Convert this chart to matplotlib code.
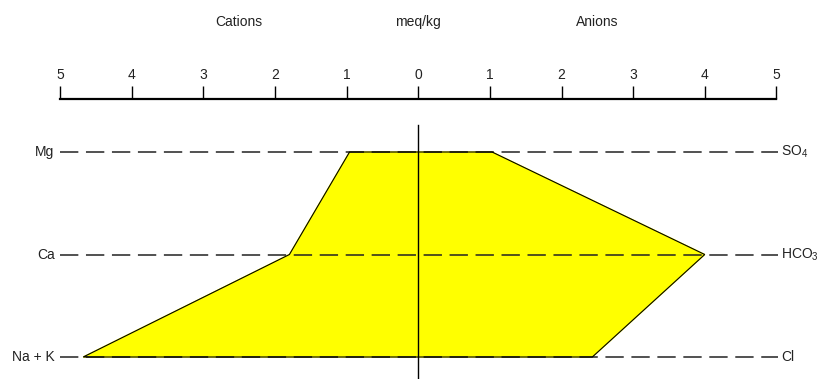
import matplotlib.pyplot as plt
from matplotlib.ticker import FuncFormatter

plt.rcParams['font.family'] = ['Liberation Sans', 'DejaVu Sans']
plt.rcParams['mathtext.fontset'] = 'custom'
plt.rcParams['mathtext.rm'] = 'Liberation Sans'
plt.rcParams['mathtext.it'] = 'Liberation Sans'

# ions from top row to bottom row, meq/kg
cations = ["Mg", "Ca", "Na + K"]
anions = [r"SO$_4$", r"HCO$_3$", "Cl"]
cation_vals = [0.96, 1.80, 4.68]
anion_vals = [1.03, 4.00, 2.43]
scale_ticks = [-5, -4, -3, -2, -1, 0, 1, 2, 3, 4, 5]

txt = '#222222'
fs = 10
rows = [2, 1, 0]
xlim = (-5.842, 5.610)
ylim = (-0.2146, 3.483)

fig = plt.figure(figsize=(8.2, 3.79), dpi=100)
ax = fig.add_axes([0, 0, 1, 1])
ax.set_xlim(xlim)
ax.set_ylim(ylim)
ax.axis('off')

# stiff polygon: cation side drawn negative, anion side positive
xs = [-v for v in cation_vals] + anion_vals[::-1]
ys = rows + rows[::-1]
ax.fill(xs, ys, color='#ffff00', zorder=1)

for y, c, a in zip(rows, cations, anions):
    ax.plot([-5, 5.03], [y, y], color='#222222', lw=1.1,
            linestyle=(0, (12, 5)), zorder=2)
    ax.text(-5.08, y, c, ha='right', va='center', fontsize=fs, color=txt)
    ax.text(5.07, y, a, ha='left', va='center', fontsize=fs, color=txt)

ax.fill(xs, ys, facecolor='none', edgecolor='black', lw=0.8, zorder=3)
ax.plot([0, 0], [2.26, ylim[0]], color='black', lw=1.0, zorder=4)

ax.text(-2.5, 3.27, "Cations", ha='center', va='center', fontsize=fs, color=txt)
ax.text(0, 3.27, "meq/kg", ha='center', va='center', fontsize=fs, color=txt)
ax.text(2.5, 3.27, "Anions", ha='center', va='center', fontsize=fs, color=txt)

# concentration scale along the top
top = 1 - 99.3 / 379
sc = fig.add_axes([0, top - 0.02, 1, 0.02])
sc.set_xlim(xlim)
sc.patch.set_visible(False)
for s in ['left', 'right', 'bottom']:
    sc.spines[s].set_visible(False)
sc.spines['top'].set_bounds(-5, 5)
sc.spines['top'].set_linewidth(1.6)
sc.set_yticks([])
sc.xaxis.set_ticks_position('top')
sc.xaxis.set_label_position('top')
sc.set_xticks(scale_ticks)
sc.xaxis.set_major_formatter(FuncFormatter(lambda v, p: f"{abs(int(round(v)))}"))
sc.tick_params(axis='x', direction='out', length=9.5, width=1.0, pad=3,
               labelsize=fs, labelcolor=txt, color='black')

fig.savefig("out.png", dpi=100)
